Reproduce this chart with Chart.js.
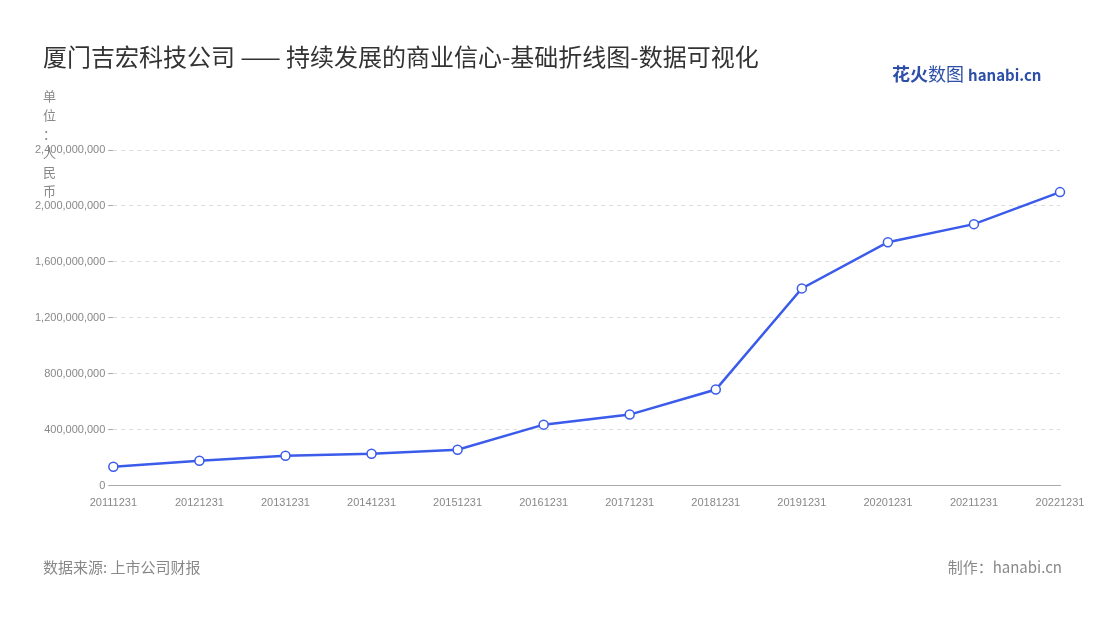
<!DOCTYPE html>
<html><head><meta charset="utf-8">
<script src="https://cdn.jsdelivr.net/npm/chart.js@4"></script>
<style>
body{margin:0;background:#fff;font-family:"Noto Sans CJK SC","Noto Sans",sans-serif;}
#wrap{position:relative;width:1100px;height:620px;}
canvas{position:absolute;left:0;top:0;}
.t{position:absolute;white-space:nowrap;}
</style></head><body>
<div id="wrap">
<canvas id="c" width="1100" height="620"></canvas>
<div class="t" style="left:43px;top:38px;font-size:24px;color:#333;">厦门吉宏科技公司 —— 持续发展的商业信心-基础折线图-数据可视化</div>
<div class="t" style="left:892px;top:60px;font-size:18px;font-weight:bold;color:#2d4fa8;">花火<span style="font-weight:normal">数图</span> <span style="font-size:15px;">hanabi.cn</span></div>
<div class="t" style="left:43px;top:86px;font-size:13px;color:#888;line-height:19px;width:13px;white-space:normal;word-break:break-all;">单位<br>：<br>人民币</div>
<div class="t" style="left:43px;top:556px;font-size:15px;color:#888;">数据来源: 上市公司财报</div>
<div class="t" style="right:38px;top:556px;font-size:15px;color:#888;">制作：hanabi.cn</div>
</div>
<script>
const categories=["20111231","20121231","20131231","20141231","20151231","20161231","20171231","20181231","20191231","20201231","20211231","20221231"];
const revenue=[136000000,179000000,215000000,229000000,258000000,437000000,509000000,688000000,1411000000,1741000000,1870000000,2099000000];
const tickValues=[0,400000000,800000000,1200000000,1600000000,2000000000,2400000000];
new Chart(document.getElementById('c'),{
type:'line',
data:{labels:categories,datasets:[{data:revenue,borderColor:'#3b5bea',borderWidth:2.5,pointBackgroundColor:'#fff',pointBorderColor:'#3b5bea',pointBorderWidth:1.5,pointRadius:4.5,tension:0}]},
options:{responsive:false,animation:false,
layout:{padding:{top:150,left:32,right:40,bottom:107}},
plugins:{legend:{display:false},tooltip:{enabled:false}},
scales:{
x:{offset:false,grid:{display:false},border:{color:'#aaa'},ticks:{color:'#888',font:{size:11},maxRotation:0,autoSkip:false}},
y:{min:0,max:2400000000,afterBuildTicks:a=>{a.ticks=tickValues.map(v=>({value:v}));},
grid:{color:'#ddd',tickLength:5,tickColor:'#aaa',tickBorderDash:[],},border:{display:false,dash:[4,4]},
ticks:{color:'#888',font:{size:11},callback:v=>v.toLocaleString('en-US')}}
}}
});
</script>
</body></html>
